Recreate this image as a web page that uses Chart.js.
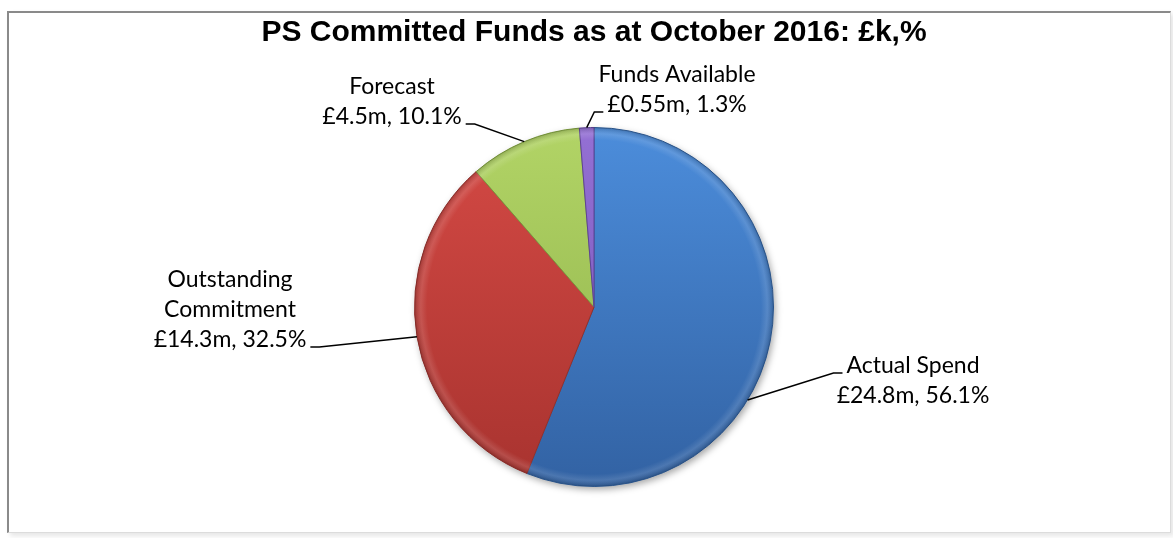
<!DOCTYPE html>
<html>
<head>
<meta charset="utf-8">
<script src="https://cdn.jsdelivr.net/npm/chart.js@4"></script>
<style>
  html, body { margin: 0; padding: 0; background: #fff; }
  #wrap { position: relative; width: 1173px; height: 538px; overflow: hidden; }
  #frame {
    position: absolute; left: 7px; top: 11px; width: 1161px; height: 519px;
    border-left: 2px solid #8a8a8a; border-top: 2px solid #8a8a8a;
    border-right: 1px solid #dcdcdc; border-bottom: 1px solid #dcdcdc;
    box-shadow: 3px 3px 5px rgba(0,0,0,0.10);
    background: #fff;
  }
  canvas { position: absolute; left: 0; top: 0; }
</style>
</head>
<body>
<div id="wrap">
  <div id="frame"></div>
  <canvas id="chart" width="1173" height="538"></canvas>
</div>
<script>
/***********************
 * DATA
 ***********************/
const TITLE = "PS Committed Funds as at October 2016: £k,%";
const CATEGORIES = ["Actual Spend", "Outstanding Commitment", "Forecast", "Funds Available"];
const AMOUNTS_M = [24.8, 14.3, 4.5, 0.55];
const PERCENTS = [56.1, 32.5, 10.1, 1.3];

/***********************
 * STYLE
 ***********************/
// top / bottom shades for the bevel-ish look
const SHADES = [
  ["#4c8ddb", "#3262a3"],
  ["#d54a45", "#a8332f"],
  ["#b2d466", "#8db049"],
  ["#9470d4", "#7453b4"],
];
const EDGES = ["#2d5a94", "#93302c", "#7b9a3e", "#5f4296"];

// label block placement, px from the pie centre
const LABELS = [
  { dx: 319, dy: 73, wrap: false, side: "left", line: 0, edge: 0.6 },
  { dx: -364, dy: 2, wrap: true, side: "right", line: -1, edge: 0.5 },
  { dx: -202, dy: -206, wrap: false, side: "right", line: -1, edge: 0.5 },
  { dx: 83, dy: -218, wrap: false, side: "left", line: -1, edge: 0.5 },
];
const LABEL_FONT = "23px Lato";
const LINE_H = 30;

/***********************
 * Helpers
 ***********************/
function labelLines(i) {
  const name = LABELS[i].wrap ? CATEGORIES[i].split(" ") : [CATEGORIES[i]];
  return [...name, `£${AMOUNTS_M[i]}m, ${PERCENTS[i].toFixed(1)}%`];
}

function shade(ctx) {
  const i = ctx.dataIndex;
  const area = ctx.chart.chartArea;
  if (!area) return SHADES[i][0];
  const g = ctx.chart.ctx.createLinearGradient(0, area.top, 0, area.bottom);
  g.addColorStop(0, SHADES[i][0]);
  g.addColorStop(1, SHADES[i][1]);
  return g;
}

/***********************
 * Plugins
 ***********************/
const pieShadow = {
  id: "pieShadow",
  beforeDatasetsDraw(chart) {
    const arc = chart.getDatasetMeta(0).data[0];
    if (!arc) return;
    const c = chart.ctx;
    c.save();
    c.shadowColor = "rgba(0,0,0,0.35)";
    c.shadowBlur = 7;
    c.shadowOffsetX = 2;
    c.shadowOffsetY = 3;
    c.fillStyle = "#fff";
    c.beginPath();
    c.arc(arc.x, arc.y, arc.outerRadius, 0, Math.PI * 2);
    c.fill();
    c.restore();
  },
  // soft rim so the disc looks a little bevelled
  afterDatasetsDraw(chart) {
    const arc = chart.getDatasetMeta(0).data[0];
    if (!arc) return;
    const c = chart.ctx;
    const r = arc.outerRadius;
    const g = c.createRadialGradient(arc.x, arc.y, 0, arc.x, arc.y, r);
    g.addColorStop(0, "rgba(255,255,255,0)");
    g.addColorStop(0.93, "rgba(255,255,255,0)");
    g.addColorStop(0.965, "rgba(255,255,255,0.12)");
    g.addColorStop(1, "rgba(0,0,0,0.18)");
    c.save();
    c.fillStyle = g;
    c.beginPath();
    c.arc(arc.x, arc.y, r, 0, Math.PI * 2);
    c.fill();
    c.restore();
  },
};

const leaderLabels = {
  id: "leaderLabels",
  afterDatasetsDraw(chart) {
    const c = chart.ctx;
    const arcs = chart.getDatasetMeta(0).data;
    c.save();
    c.font = LABEL_FONT;
    c.fillStyle = "#000";
    c.strokeStyle = "#000";
    c.lineWidth = 1.5;
    c.textAlign = "center";
    c.textBaseline = "alphabetic";

    arcs.forEach((arc, i) => {
      const L = LABELS[i];
      const lines = labelLines(i);
      const bx = arc.x + L.dx;
      const by = arc.y + L.dy;
      const n = lines.length;
      const base = (k) => by + (k - (n - 1) / 2) * LINE_H + 8;

      lines.forEach((t, k) => c.fillText(t, bx, base(k)));

      // leader line
      const k = L.line < 0 ? n - 1 : L.line;
      const w = c.measureText(lines[k]).width;
      const ay = base(k);
      const ax = L.side === "left" ? bx - w / 2 - 4 : bx + w / 2 + 4;
      const tick = L.side === "left" ? -9 : 9;
      const ang = arc.startAngle + (arc.endAngle - arc.startAngle) * L.edge;
      const ex = arc.x + Math.cos(ang) * arc.outerRadius;
      const ey = arc.y + Math.sin(ang) * arc.outerRadius;

      c.beginPath();
      c.moveTo(ex, ey);
      c.lineTo(ax + tick, ay);
      c.lineTo(ax, ay);
      c.stroke();
    });
    c.restore();
  },
};

/***********************
 * Chart
 ***********************/
function draw() {
  new Chart(document.getElementById("chart"), {
    type: "pie",
    data: {
      labels: CATEGORIES,
      datasets: [{
        data: PERCENTS,
        backgroundColor: shade,
        borderColor: EDGES,
        borderWidth: 1,
      }],
    },
    options: {
      responsive: false,
      animation: false,
      layout: { padding: { top: 10, bottom: 51, left: 15, right: 0 } },
      plugins: {
        legend: { display: false },
        tooltip: { enabled: false },
        title: {
          display: true,
          text: TITLE,
          color: "#000",
          font: { family: "Liberation Sans", size: 30, weight: "bold", lineHeight: 1.2 },
          padding: { top: 5, bottom: 76 },
        },
      },
    },
    plugins: [pieShadow, leaderLabels],
  });
}

document.fonts.load(LABEL_FONT).then(draw, draw);
</script>
</body>
</html>
